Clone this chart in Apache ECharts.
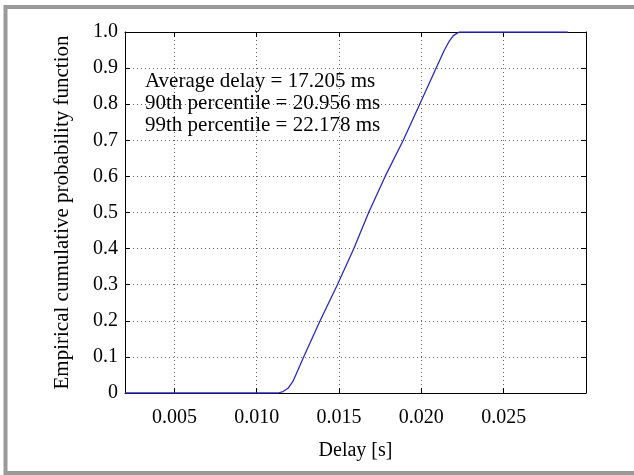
<!DOCTYPE html>
<html>
<head>
<meta charset="utf-8">
<script src="https://cdn.jsdelivr.net/npm/echarts@6/dist/echarts.min.js"></script>
<style>
html,body{margin:0;padding:0;background:#fff;}
#chart{width:634px;height:475px;}
</style>
</head>
<body>
<div id="chart"></div>
<script>
// Data
const delayS = [0.002, 0.0113, 0.0116, 0.0119, 0.0122, 0.01285, 0.01385, 0.0149, 0.0159, 0.0168, 0.0178, 0.0189, 0.0199, 0.0209, 0.0214, 0.0217, 0.02194, 0.0223, 0.0289];
const cdf    = [0,     0,      0.004,  0.013,  0.032,  0.1,     0.2,     0.3,    0.4,    0.5,    0.6,    0.7,    0.8,    0.9,    0.95,   0.975,  0.99,    1.0,    1.0];
const xTicks = [0.005, 0.010, 0.015, 0.020, 0.025];
const notes = ['Average delay = 17.205 ms', '90th percentile = 20.956 ms', '99th percentile = 22.178 ms'];
const xTitle = 'Delay [s]';
const yTitle = 'Empirical cumulative probability function';

const FONT = '"Liberation Serif", "Times New Roman", serif';
const chart = echarts.init(document.getElementById('chart'));

const gridLeft = 125, gridTop = 32, gridW = 461, gridH = 361;

const baseX = {
  type: 'value', min: 0.002, max: 0.030,
  axisLine: {show: true, onZero: false, lineStyle: {color: '#000', width: 1}},
  axisTick: {show: true, inside: true, length: 5, customValues: xTicks, lineStyle: {color: '#000'}},
};
const baseY = {
  type: 'value', min: 0, max: 1, interval: 0.1,
  axisLine: {show: true, onZero: false, lineStyle: {color: '#000', width: 1}},
  axisTick: {show: true, inside: true, length: 5, lineStyle: {color: '#000'}},
};

chart.setOption({
  animation: false,
  backgroundColor: '#fff',
  grid: {left: gridLeft, top: gridTop, width: gridW, height: gridH, show: false},
  xAxis: [
    Object.assign({}, baseX, {
      position: 'bottom',
      name: xTitle, nameLocation: 'middle', nameGap: 48,
      nameTextStyle: {fontFamily: FONT, fontSize: 20, color: '#000'},
      axisLabel: {show: true, customValues: xTicks, margin: 15, fontFamily: FONT, fontSize: 20, color: '#000',
        formatter: v => v.toFixed(3)},
      splitLine: {show: true, lineStyle: {color: '#666', type: [1, 3], width: 1}}
    }),
    Object.assign({}, baseX, {
      position: 'top', axisLabel: {show: false}, splitLine: {show: false}
    })
  ],
  yAxis: [
    Object.assign({}, baseY, {
      position: 'left',
      name: yTitle, nameLocation: 'middle', nameGap: 52, nameRotate: 90,
      nameTextStyle: {fontFamily: FONT, fontSize: 21, color: '#000'},
      axisLabel: {show: true, margin: 7, fontFamily: FONT, fontSize: 20, color: '#000',
        formatter: v => (v === 0 ? '0' : v.toFixed(1))},
      splitLine: {show: true, lineStyle: {color: '#666', type: [1, 3], width: 1}}
    }),
    Object.assign({}, baseY, {
      position: 'right', axisLabel: {show: false}, splitLine: {show: false}
    })
  ],
  graphic: [
    {type: 'rect', silent: true, z: 100,
      shape: {x: 5.5, y: 7, width: 700, height: 466},
      style: {fill: 'none', stroke: '#9a9a9a', lineWidth: 4}},
    {type: 'text', left: 145, top: 71, z: 50,
      style: {text: notes[0], fontFamily: FONT, fontSize: 21, fill: '#000'}},
    {type: 'text', left: 145, top: 93, z: 50,
      style: {text: notes[1], fontFamily: FONT, fontSize: 21, fill: '#000'}},
    {type: 'text', left: 145, top: 115, z: 50,
      style: {text: notes[2], fontFamily: FONT, fontSize: 21, fill: '#000'}}
  ],
  series: [{
    type: 'line',
    data: delayS.map((x, i) => [x, cdf[i]]),
    showSymbol: false,
    smooth: false,
    lineStyle: {color: '#2a2ac8', width: 1.3},
    z: 10
  }]
});
</script>
</body>
</html>
